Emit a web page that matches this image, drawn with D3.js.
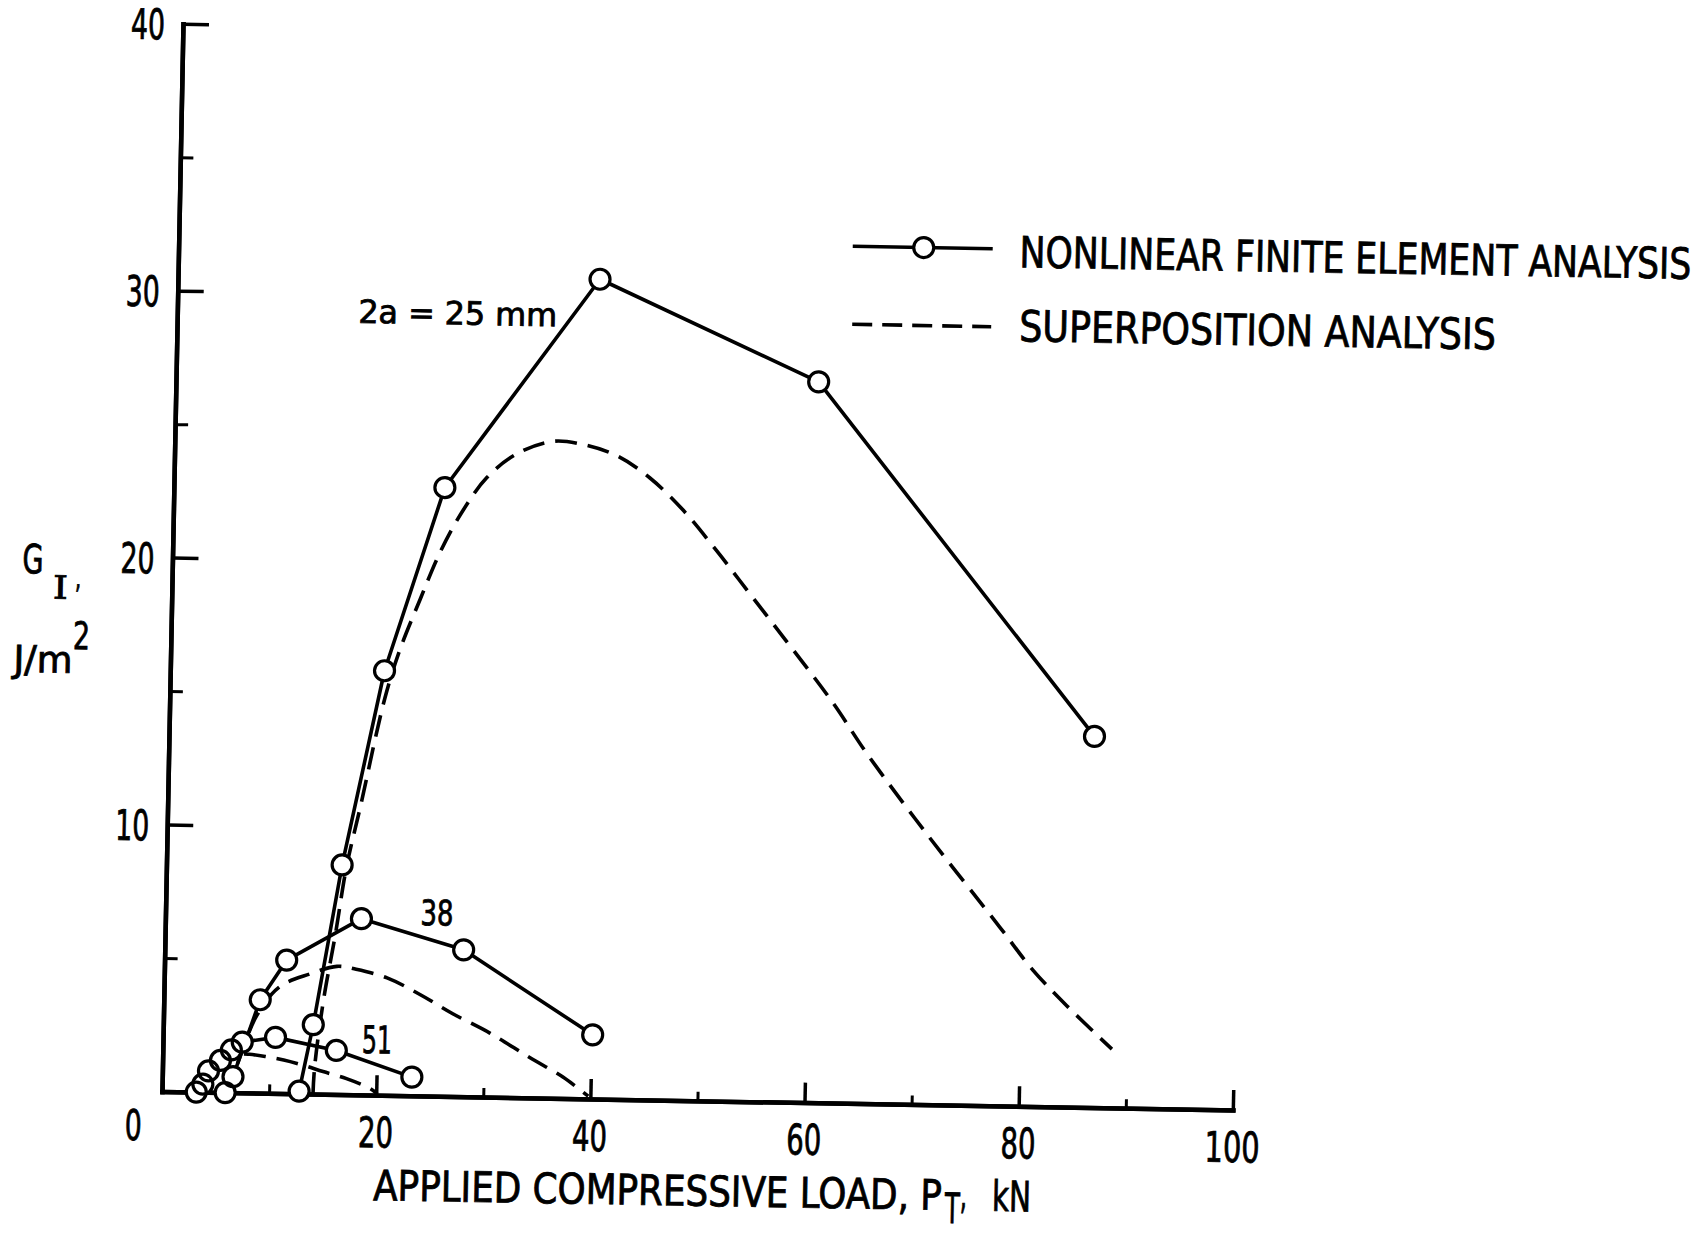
<!DOCTYPE html>
<html>
<head>
<meta charset="utf-8">
<script src="https://cdnjs.cloudflare.com/ajax/libs/d3/7.8.5/d3.min.js"></script>
<style>
  html, body { margin: 0; padding: 0; background: #fff; }
  svg { display: block; }
  text { font-family: 'DejaVu Sans Condensed', 'DejaVu Sans', sans-serif; fill: #000; stroke: #000; stroke-width: 0.8; }
</style>
</head>
<body>
<svg width="1705" height="1233"></svg>
<script>
// nonlinear finite element analysis, [load kN, G_I J/m^2]
const fe25 = [[12.8, 0.1], [14.0, 2.6], [16.4, 8.6], [20.0, 15.9], [25.3, 22.8], [39.4, 30.7], [60.0, 27.0], [86.4, 13.9]]
const fe38 = [[5.9, 0], [6.6, 0.6], [9.0, 3.5], [11.4, 5.0], [18.3, 6.6], [27.9, 5.5], [40.1, 2.4]]
const fe51 = [[3.2, 0], [3.8, 0.3], [4.3, 0.8], [5.4, 1.2], [6.4, 1.6], [7.4, 1.9], [10.5, 2.1], [16.2, 1.65], [23.3, 0.7]]

// superposition analysis
const sp25 = [[14.1, 0], [14.2, 1.0], [14.9, 3.5], [15.9, 6.0], [16.8, 8.5], [18.0, 10.8], [20.1, 14.9], [21.4, 16.7],
  [23.2, 18.6], [25.0, 20.4], [27.1, 22.0], [29.2, 23.2], [31.9, 24.1], [35.3, 24.6], [38.1, 24.5], [41.3, 24.1],
  [44.4, 23.3], [47.6, 22.1], [50.8, 20.6], [54.0, 19.0], [57.2, 17.4], [61.9, 15.0], [65.2, 13.1], [71.0, 10.1],
  [77.9, 6.7], [81.1, 5.1], [84.3, 3.8], [88.6, 2.2]]
const sp38 = [[5.6, 0], [6.6, 0.7], [8.7, 2.9], [10.8, 4.0], [13.6, 4.5], [16.1, 4.8], [17.9, 4.7], [20.8, 4.4],
  [23.9, 3.8], [27.0, 3.1], [30.5, 2.4], [34.3, 1.5], [37.4, 0.8], [39.8, 0.1]]
const sp51 = [[3.0, 0], [4.4, 0.8], [5.8, 1.3], [7.0, 1.45], [8.1, 1.45], [9.7, 1.37], [11.3, 1.26], [13.1, 1.08],
  [15.0, 0.85], [17.2, 0.6], [19.4, 0.25], [20.1, 0.05]]

const xMajor = [0, 20, 40, 60, 80, 100]
const xMinor = [10, 30, 50, 70, 90]
const yMajor = [0, 10, 20, 30, 40]
const yMinor = [5, 15, 25, 35]
const legendLabels = ['NONLINEAR FINITE ELEMENT ANALYSIS', 'SUPERPOSITION ANALYSIS']
const curveLabels = ['2a = 25 mm', '38', '51']

let svg = d3.select('svg')

// the scanned figure is tilted a little, so the whole plot sits in a skewed frame
let g = svg.append('g')
    .attr('transform', 'matrix(0.99985,0.01727,-0.01966,0.99981,162,1091.5)')

let x = d3.scaleLinear().domain([0, 100]).range([0, 1071])
let y = d3.scaleLinear().domain([0, 40]).range([0, -1068])

// text squeezed to a given width, like the condensed lettering of the original
function label(parent, str, u, v, size, width, anchor, family) {
  let t = parent.append('text').text(str).attr('font-size', size)
  if (family) t.style('font-family', family)
  let len = t.node().getComputedTextLength()
  let dx = anchor === 'middle' ? -width / 2 : anchor === 'end' ? -width : 0
  t.attr('transform', 'translate(' + (u + dx) + ',' + v + ') scale(' + (width / len) + ',1)')
  return t
}

function styleAxis(sel, w) {
  sel.select('.domain').attr('stroke', '#000').attr('stroke-width', 4.5).attr('stroke-linecap', 'square')
  sel.selectAll('.tick line').attr('stroke', '#000').attr('stroke-width', w)
}

// axes, ticks pointing into the plot
g.append('g').call(d3.axisBottom(x).tickValues(xMinor).tickSizeInner(-9).tickSizeOuter(0).tickFormat(''))
    .call(styleAxis, 3)
g.append('g').call(d3.axisBottom(x).tickValues(xMajor).tickSizeInner(-20).tickSizeOuter(0).tickFormat(''))
    .call(styleAxis, 3.5)
g.append('g').call(d3.axisLeft(y).tickValues(yMinor).tickSizeInner(-13).tickSizeOuter(0).tickFormat(''))
    .call(styleAxis, 3)
g.append('g').call(d3.axisLeft(y).tickValues(yMajor).tickSizeInner(-26).tickSizeOuter(0).tickFormat(''))
    .call(styleAxis, 3.5)

// tick labels
xMajor.filter(d => d > 0).forEach(d => {
  label(g, String(d), x(d), 52, 42, d === 100 ? 55 : 35, 'middle')
})
yMajor.filter(d => d > 0).forEach(d => {
  label(g, String(d), -18, y(d) + 16, 42, 34, 'end')
})
label(g, '0', -28, 49, 42, 17, 'middle')

// axis titles
label(g, 'APPLIED COMPRESSIVE LOAD, P', 213, 105, 42, 569)
label(g, 'T', 785, 118, 42, 15)
label(g, ',', 800, 103, 42, 7)
label(g, 'kN', 832, 105, 42, 39)

label(g, 'G', -150, -516, 40, 21)
label(g, 'I', -119, -491, 32, 15, null, "'DejaVu Serif', serif")
label(g, ',', -97, -502, 30, 6)
label(g, 'J/m', -157, -417, 37, 59)
label(g, '2', -98, -441, 38, 17)

// superposition curves
let smooth = d3.line()
    .x(function(d) { return x(d[0]) })
    .y(function(d) { return y(d[1]) })
    .curve(d3.curveCatmullRom.alpha(0.5))

g.append('g').selectAll('path')
    .data([sp25, sp38, sp51])
    .enter().append('path')
      .attr('d', smooth)
      .attr('fill', 'none')
      .attr('stroke', '#000')
      .attr('stroke-width', 3.6)
      .attr('stroke-dasharray', '22 11')

// finite element results
let straight = d3.line()
    .x(function(d) { return x(d[0]) })
    .y(function(d) { return y(d[1]) })

let feSeries = [fe25, fe38, fe51]
g.append('g').selectAll('path')
    .data(feSeries)
    .enter().append('path')
      .attr('d', straight)
      .attr('fill', 'none')
      .attr('stroke', '#000')
      .attr('stroke-width', 3.6)
      .attr('stroke-linejoin', 'round')

let allPoints = feSeries.flat()
// white discs hide the lines, then every outline is drawn on top
g.append('g').selectAll('circle')
    .data(allPoints)
    .enter().append('circle')
      .attr('cx', function(d) { return x(d[0]) })
      .attr('cy', function(d) { return y(d[1]) })
      .attr('r', 10)
      .attr('fill', '#fff')
g.append('g').selectAll('circle')
    .data(allPoints)
    .enter().append('circle')
      .attr('cx', function(d) { return x(d[0]) })
      .attr('cy', function(d) { return y(d[1]) })
      .attr('r', 10)
      .attr('fill', 'none')
      .attr('stroke', '#000')
      .attr('stroke-width', 3.2)

// curve labels
label(g, curveLabels[0], 181, -772, 32, 199)
label(g, curveLabels[1], 255, -171, 35, 33)
label(g, curveLabels[2], 199, -42, 38, 30)

// legend
let legend = g.append('g')
legend.append('line')
    .attr('x1', 674).attr('x2', 814).attr('y1', -857).attr('y2', -857)
    .attr('stroke', '#000').attr('stroke-width', 3.6)
legend.append('circle')
    .attr('cx', 745).attr('cy', -857).attr('r', 10)
    .attr('fill', '#fff').attr('stroke', '#000').attr('stroke-width', 3.2)
legend.append('line')
    .attr('x1', 675).attr('x2', 814).attr('y1', -779).attr('y2', -779)
    .attr('stroke', '#000').attr('stroke-width', 3.6)
    .attr('stroke-dasharray', '20 10')
label(legend, legendLabels[0], 841, -839, 43, 672)
label(legend, legendLabels[1], 842, -765, 43, 477)
</script>
</body>
</html>
